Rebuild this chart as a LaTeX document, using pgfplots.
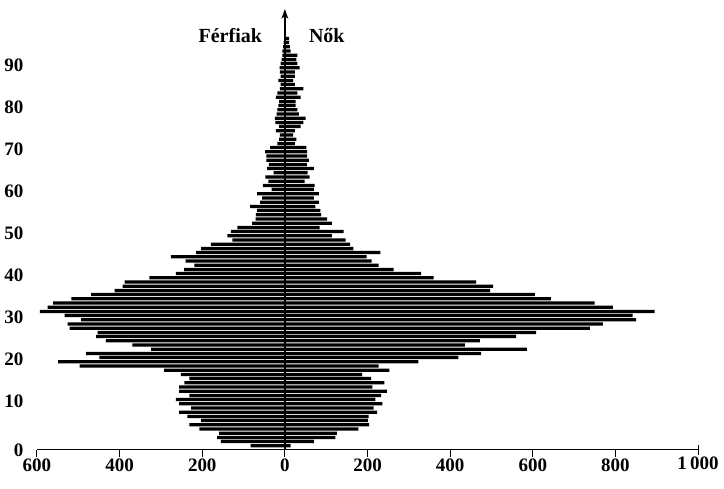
\documentclass[border=0pt]{standalone}
\usepackage{fontspec}
\setmainfont{Liberation Serif}
\usepackage{pgfplots}
\pgfplotsset{compat=1.18}
\usepackage{pgfplotstable}
\usetikzlibrary{arrows.meta}

% men (Férfiak), by age
\pgfplotstableread{
age n
0 83
1 155
2 164
3 159
4 207
5 231
6 203
7 236
8 256
9 227
10 256
11 264
12 231
13 256
14 256
15 243
16 231
17 252
18 292
19 497
20 549
21 449
22 481
23 324
24 369
25 433
26 457
27 453
28 521
29 526
30 493
31 533
32 593
33 574
34 561
35 517
36 469
37 412
38 393
39 388
40 328
41 264
42 244
43 219
44 240
45 276
46 215
47 203
48 179
49 127
50 139
51 131
52 115
53 79
54 71
55 70
56 67
57 84
58 60
59 55
60 67
61 32
62 53
63 40
64 47
65 27
66 43
67 39
68 45
69 45
70 48
71 36
72 18
73 14
74 12
75 22
76 14
77 23
78 24
79 20
80 18
81 16
82 14
83 22
84 18
85 12
86 10
87 16
88 10
89 12
90 13
91 10
92 8
93 6
94 6
95 4
96 3
}\men

% women (Nők), by age
\pgfplotstableread{
age n
0 14
1 70
2 122
3 126
4 178
5 204
6 201
7 203
8 223
9 215
10 236
11 219
12 233
13 247
14 212
15 241
16 209
17 187
18 253
19 227
20 323
21 420
22 475
23 586
24 436
25 472
26 560
27 608
28 738
29 770
30 850
31 842
32 895
33 794
34 750
35 644
36 605
37 497
38 504
39 463
40 360
41 330
42 263
43 227
44 210
45 198
46 231
47 166
48 158
49 147
50 114
51 142
52 84
53 114
54 102
55 88
56 86
57 74
58 82
59 70
60 82
61 70
62 72
63 48
64 60
65 55
66 70
67 53
68 58
69 54
70 54
71 52
72 24
73 28
74 20
75 24
76 38
77 45
78 50
79 34
80 30
81 26
82 26
83 38
84 30
85 45
86 24
87 20
88 24
89 24
90 36
91 30
92 28
93 30
94 14
95 12
96 10
97 10
}\women

\begin{document}
\begin{tikzpicture}
\useasboundingbox (0,0) rectangle (724pt,489pt);
\begin{axis}[
  at={(37pt,39pt)}, anchor=south west,
  scale only axis, width=661pt, height=441pt,
  xmin=-600, xmax=1000, ymin=-1, ymax=104,
  axis x line=bottom, axis y line=left,
  x axis line style={-, line width=1pt},
  y axis line style={draw=none},
  xtick={-600,-400,-200,0,200,400,600,800},
  xticklabels={600,400,200,0,200,400,600,800},
  extra x ticks={1000}, extra x tick labels={1\,000},
  extra x tick style={tick align=center, major tick length=10pt},
  xtick align=outside, major tick length=7pt,
  xtick style={line width=1pt, black},
  ytick={-1,10.6,20.6,30.6,40.6,50.6,60.6,70.6,80.6,90.6},
  yticklabels={0,10,20,30,40,50,60,70,80,90},
  ytick style={draw=none},
  ticklabel style={font=\bfseries\fontsize{19}{19}\selectfont},
  yticklabel style={xshift=-3pt},
  xticklabel style={yshift=2pt},
  xbar, bar width=0.78, bar shift=0pt,
  clip=false,
]
\addplot[fill=black, draw=none] table[x expr=-\thisrow{n}, y=age] {\men};
\addplot[fill=black, draw=none] table[x=n, y=age] {\women};
\draw[line width=1.5pt, -{Stealth[length=10pt,width=7pt]}] (axis cs:0,-1) -- (axis cs:0,104);
\node[anchor=east, inner sep=0pt, font=\bfseries\fontsize{20}{20}\selectfont] at (axis cs:-55,97.6) {Férfiak};
\node[anchor=west, inner sep=0pt, font=\bfseries\fontsize{20}{20}\selectfont] at (axis cs:58,97.6) {Nők};
\end{axis}
\end{tikzpicture}
\end{document}
